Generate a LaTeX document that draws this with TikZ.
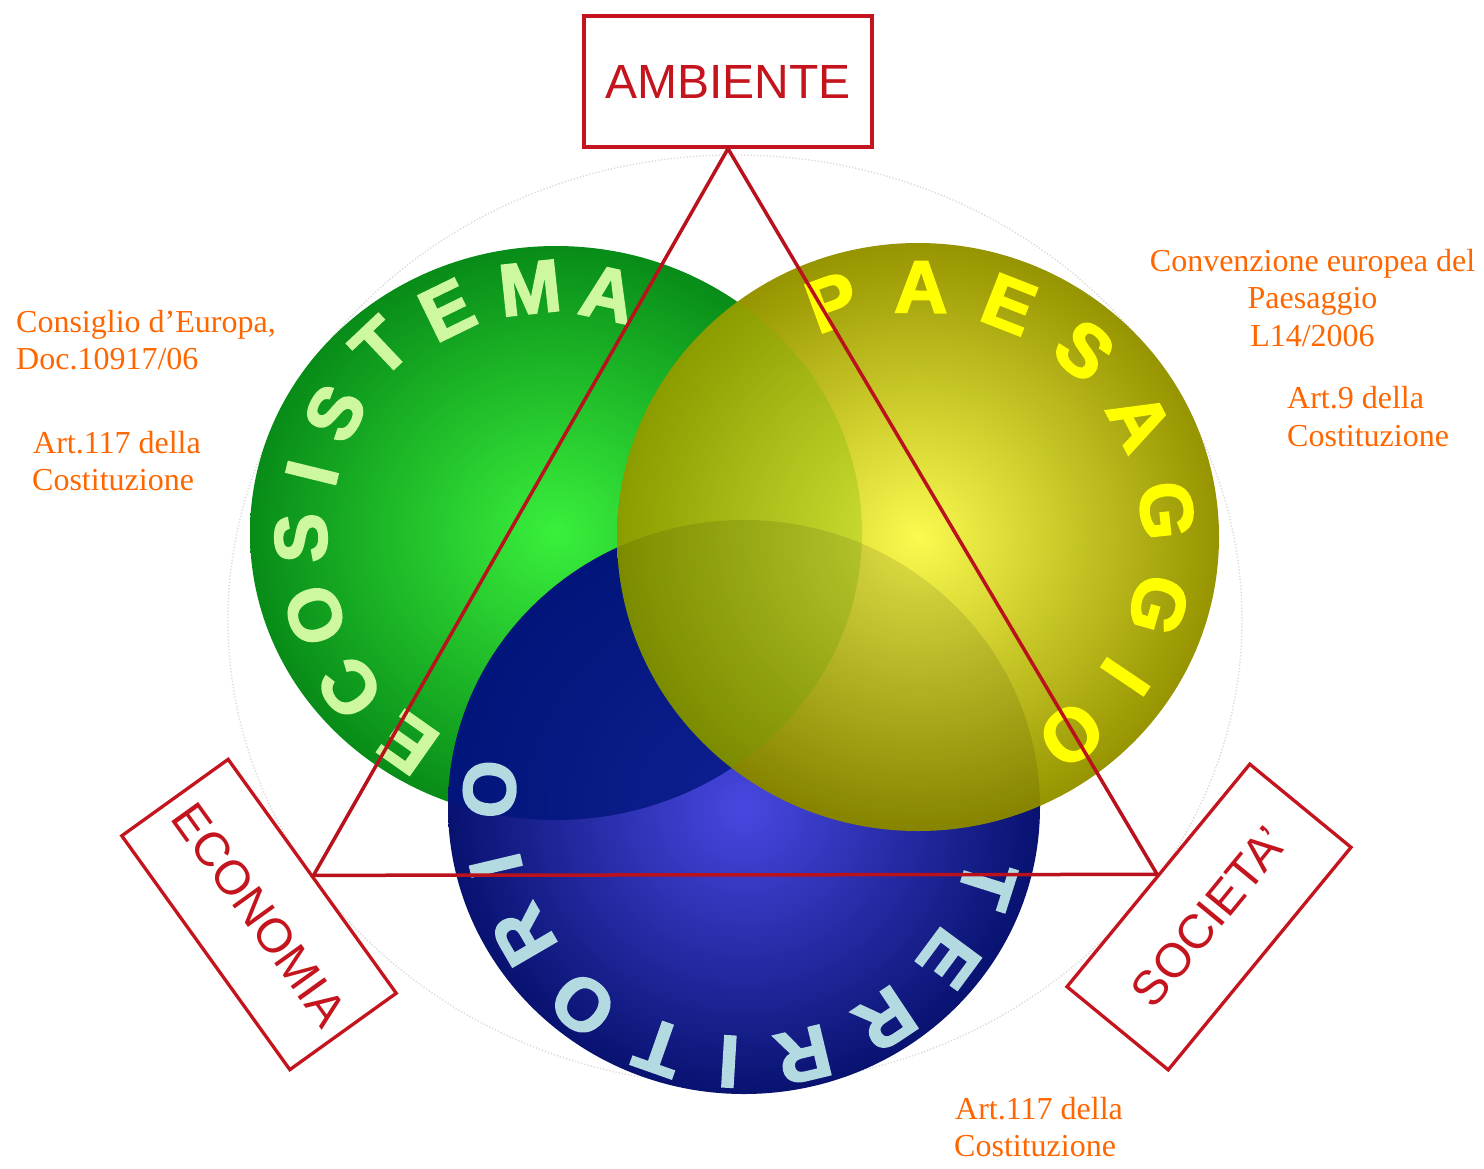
\documentclass[tikz,border=0pt]{standalone}
\usepackage{fontspec}
\setmainfont{Liberation Serif}
\newfontfamily\arialf{Liberation Sans}
\newfontfamily\ringfont{Liberation Sans Bold}[FakeBold=2.5]
\definecolor{boxred}{RGB}{196,20,30}
\definecolor{trired}{RGB}{185,18,28}
\definecolor{orangetxt}{RGB}{255,102,0}
\definecolor{gin}{RGB}{58,240,60}
\definecolor{gout}{RGB}{8,140,24}
\definecolor{bin}{RGB}{72,72,225}
\definecolor{bout}{RGB}{8,18,112}
\definecolor{yin}{RGB}{250,250,80}
\definecolor{yout}{RGB}{150,148,0}
\definecolor{navyov}{RGB}{0,22,125}
\definecolor{greenov}{RGB}{110,180,0}
\definecolor{ecolet}{RGB}{205,248,160}
\definecolor{paelet}{RGB}{255,255,0}
\definecolor{terlet}{RGB}{180,218,225}
\begin{document}
\begin{tikzpicture}[x=1pt,y=-1pt,
  labeltxt/.style={text=orangetxt, font=\fontsize{32}{38}\selectfont, inner sep=0pt},
  redbox/.style={draw=boxred, line width=3.3pt, fill=white, text=boxred,
    font=\arialf\fontsize{48}{50}\selectfont, minimum width=288pt, minimum height=131pt, inner sep=0pt},
  ringletter/.style={font=\ringfont\fontsize{74}{74}\selectfont, inner sep=0pt},
  faint/.style={gray!30, line width=1.4pt, dash pattern=on 1.2pt off 2pt}
]
\fill[white] (0,0) rectangle (1484,1168);
\useasboundingbox (0,0) rectangle (1484,1168);

% faint dotted outer ring
\draw[faint] (735,620) ellipse [x radius=507, y radius=465];

% green circle
\shade[inner color=gin, outer color=gout] (556,533) ellipse [x radius=306, y radius=287];
% blue circle
\shade[inner color=bin, outer color=bout] (744,807) ellipse [x radius=296, y radius=287];
\begin{scope}
  \clip (556,533) ellipse [x radius=306, y radius=287];
  \fill[navyov, opacity=.8] (744,807) ellipse [x radius=296, y radius=287];
\end{scope}
% yellow circle
\shade[inner color=yin, outer color=yout] (918,537) ellipse [x radius=301, y radius=294];
\begin{scope}
  \clip (556,533) ellipse [x radius=306, y radius=287];
  \fill[greenov, opacity=.28] (918,537) ellipse [x radius=301, y radius=294];
\end{scope}
\begin{scope}
  \clip (744,807) ellipse [x radius=296, y radius=287];
  \fill[black, opacity=.1] (918,537) ellipse [x radius=301, y radius=294];
\end{scope}

% ECOSISTEMA
\foreach \ch/\x/\y/\r [count=\i] in {E/408/743/144.8, C/350/688/127, O/315/615/108.8,
    S/301/538/91.1, I/312/473/76.2, S/335/413/61.5, T/380/347/43.4, E/447/310/26,
    M/530/288/6.1, A/608/294/-12.3}
  \node[ringletter, text=ecolet, rotate=\r] (eco\i) at (\x,\y) {\ch};

% PAESAGGIO
\foreach \ch/\a [count=\i] in {P/110, A/89.3, E/68.6, S/48.3, A/27.6, G/6.1, G/-15.8, I/-34, O/-52.2}{
  \pgfmathsetmacro{\rr}{\a-90}
  \node[ringletter, text=paelet, rotate=\rr] (pae\i) at ({918+250*cos(\a)},{537-250*sin(\a)}) {\ch};
}

% TERRITORIO
\foreach \ch/\a [count=\i] in {T/-17.6, E/-36.5, R/-56.3, R/-76.5, I/-93.4, T/-109.4,
    O/-129.2, R/-149.8, I/-166.7, O/-184}{
  \pgfmathsetmacro{\rr}{\a-90}
  \node[ringletter, text=terlet, rotate=\rr] (ter\i) at ({744+255*cos(\a)},{807-255*sin(\a)}) {\ch};
}

% boxes
\node[redbox] (amb) at (728,81.5) {AMBIENTE};
\node[redbox, rotate=-54.3] (eco) at (259,914.5) {ECONOMIA};
\node[redbox, rotate=50.6] (soc) at (1209,917) {SOCIETA’};

% triangle
\draw[trired, line width=3.5pt, line join=miter] (amb.south) -- (eco.north) -- (soc.north) -- cycle;

% orange labels
\node[labeltxt, anchor=base west] (l1) at (16,332) {Consiglio d’Europa,};
\node[labeltxt, anchor=base west] (l2) at (16,369) {Doc.10917/06};
\node[labeltxt, anchor=base west] (l3) at (33,453) {Art.117 della};
\node[labeltxt, anchor=base west] (l4) at (32,490) {Costituzione};
\node[labeltxt, anchor=base] (r1) at (1312.5,271) {Convenzione europea del};
\node[labeltxt, anchor=base] (r2) at (1312.5,308.5) {Paesaggio};
\node[labeltxt, anchor=base] (r3) at (1312.5,346.5) {L14/2006};
\node[labeltxt, anchor=base west] (r4) at (1287,408) {Art.9 della};
\node[labeltxt, anchor=base west] (r5) at (1287,446) {Costituzione};
\node[labeltxt, anchor=base west] (b1) at (955,1119) {Art.117 della};
\node[labeltxt, anchor=base west] (b2) at (954,1156) {Costituzione};
\end{tikzpicture}
\end{document}
